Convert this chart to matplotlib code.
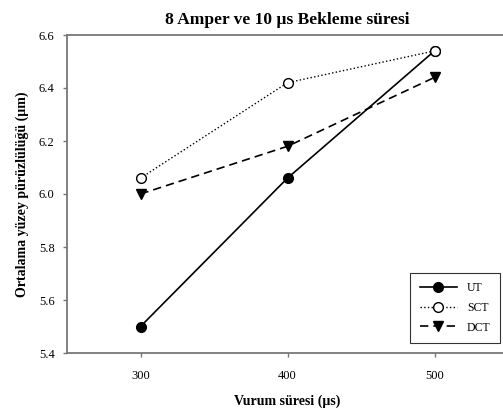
import matplotlib.pyplot as plt

plt.rcParams['font.family'] = ['Liberation Serif', 'DejaVu Serif']

x = [300, 400, 500]
ut = [5.50, 6.06, 6.54]
sct = [6.06, 6.42, 6.54]
dct = [6.00, 6.18, 6.44]

fig = plt.figure(figsize=(5.03, 4.12), dpi=100)
ax = fig.add_axes([67 / 503, 59 / 412, 441 / 503, 318 / 412])

ax.plot(x, ut, '-', color='black', lw=1.2, marker='o', ms=7,
        mfc='black', mec='black', label='UT')
ax.plot(x, sct, ':', color='black', lw=1.0, marker='o', ms=7,
        mfc='white', mec='black', label='SCT')
ax.plot(x, dct, '--', color='black', lw=1.2, dashes=(5, 3), marker='v', ms=7,
        mfc='black', mec='black', label='DCT')

ax.set_xlim(250, 550)
ax.set_ylim(5.4, 6.6)
ax.set_xticks([300, 400, 500])
ax.set_yticks([5.4, 5.6, 5.8, 6.0, 6.2, 6.4, 6.6])
ax.set_yticklabels(['5.4', '5.6', '5.8', '6.0', '6.2', '6.4', '6.6'])
ax.tick_params(direction='out', length=3, width=1, color='#777777',
               labelsize=9, pad=6)
ax.tick_params(axis='x', pad=9)
for s in ax.spines.values():
    s.set_color('#777777')
    s.set_linewidth(1.3)

ax.set_title('8 Amper ve 10 µs Bekleme süresi', fontsize=12.5,
             fontweight='bold', pad=8)
ax.set_xlabel('Vurum süresi (µs)', fontsize=10, fontweight='bold', labelpad=9)
ax.set_ylabel('Ortalama yüzey pürüzlülüğü (µm)', fontsize=10,
              fontweight='bold', labelpad=7)

leg = ax.legend(loc='lower right', bbox_to_anchor=(0.995, 0.013), fontsize=8.5,
                frameon=True, fancybox=False, handlelength=3.2,
                borderpad=0.8, labelspacing=0.65)
leg.get_frame().set_edgecolor('black')
leg.get_frame().set_linewidth(0.8)

plt.savefig('out.png', dpi=100)
